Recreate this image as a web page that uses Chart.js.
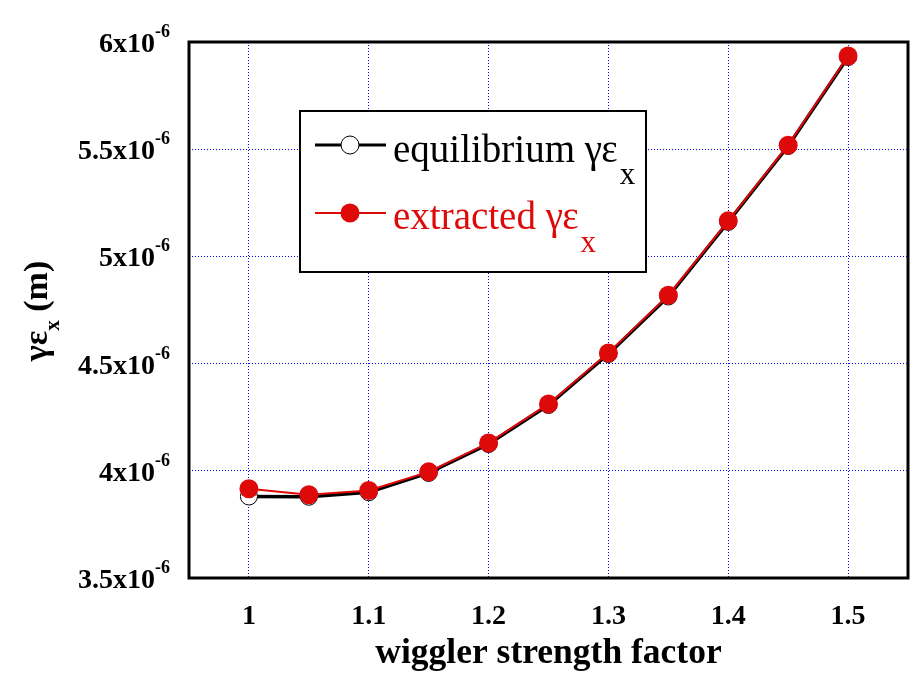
<!DOCTYPE html>
<html>
<head>
<meta charset="utf-8">
<script src="https://cdn.jsdelivr.net/npm/chart.js@4.4.1/dist/chart.umd.min.js"></script>
<style>
  html, body { margin: 0; padding: 0; background: #fff; }
  #wrap { width: 918px; height: 684px; }
</style>
</head>
<body>
<div id="wrap"><canvas id="c" width="918" height="684"></canvas></div>
<script>
// wiggler strength factor
const factors = [1.0, 1.05, 1.1, 1.15, 1.2, 1.25, 1.3, 1.35, 1.4, 1.45, 1.5];
// emittance values, units of 1e-6 m
const equilibrium = [3.880, 3.879, 3.900, 3.990, 4.125, 4.307, 4.545, 4.813, 5.161, 5.515, 5.930];
const extracted   = [3.916, 3.888, 3.908, 3.995, 4.130, 4.312, 4.550, 4.819, 5.166, 5.519, 5.935];

const xTicks = [1, 1.1, 1.2, 1.3, 1.4, 1.5];
const xTickLabels = ['1', '1.1', '1.2', '1.3', '1.4', '1.5'];
const yTicks = [3.5, 4, 4.5, 5, 5.5, 6];
const yTickLabels = ['3.5', '4', '4.5', '5', '5.5', '6'];
const yExponent = '-6';

const RED = '#de0a0a';
const SERIF = '"Liberation Serif", "Times New Roman", serif';

const pts = (ys) => factors.map((x, i) => ({ x: x, y: ys[i] }));

// Draws tick labels, titles, frame and legend
const decorPlugin = {
    id: 'decor',
    afterDatasetsDraw(chart) {
        const ctx = chart.ctx;
        const a = chart.chartArea;
        const xs = chart.scales.x;
        const ys = chart.scales.y;
        ctx.save();

        // frame
        ctx.strokeStyle = '#000';
        ctx.lineWidth = 3;
        ctx.strokeRect(a.left, a.top, a.right - a.left, a.bottom - a.top);

        // legend box
        const lx = 300, ly = 111, lw = 346, lh = 161;
        ctx.fillStyle = '#fff';
        ctx.fillRect(lx, ly, lw, lh);
        ctx.lineWidth = 2;
        ctx.strokeRect(lx, ly, lw, lh);

        // legend row 1
        ctx.strokeStyle = '#000';
        ctx.lineWidth = 3;
        ctx.beginPath(); ctx.moveTo(315, 145); ctx.lineTo(386, 145); ctx.stroke();
        ctx.beginPath(); ctx.arc(350, 145, 9, 0, Math.PI * 2);
        ctx.fillStyle = '#fff'; ctx.fill();
        ctx.lineWidth = 1; ctx.stroke();

        ctx.fillStyle = '#000';
        ctx.textAlign = 'left';
        ctx.textBaseline = 'alphabetic';
        ctx.font = '39px ' + SERIF;
        const t1 = 'equilibrium \u03b3\u03b5';
        ctx.fillText(t1, 393, 162);
        let w1 = ctx.measureText(t1).width;
        ctx.font = '31px ' + SERIF;
        ctx.fillText('x', 393 + w1 + 2, 184);

        // legend row 2
        ctx.strokeStyle = RED;
        ctx.lineWidth = 2;
        ctx.beginPath(); ctx.moveTo(315, 213); ctx.lineTo(386, 213); ctx.stroke();
        ctx.beginPath(); ctx.arc(350, 213, 9.5, 0, Math.PI * 2);
        ctx.fillStyle = RED; ctx.fill();

        ctx.font = '39px ' + SERIF;
        const t2 = 'extracted \u03b3\u03b5';
        ctx.fillText(t2, 393, 229);
        let w2 = ctx.measureText(t2).width;
        ctx.font = '31px ' + SERIF;
        ctx.fillText('x', 393 + w2 + 2, 252);

        // x tick labels
        ctx.fillStyle = '#000';
        ctx.font = 'bold 28px ' + SERIF;
        ctx.textAlign = 'center';
        xTicks.forEach((v, i) => {
            ctx.fillText(xTickLabels[i], xs.getPixelForValue(v), 624);
        });

        // y tick labels with exponent
        yTicks.forEach((v, i) => {
            const py = ys.getPixelForValue(v);
            ctx.font = 'bold 18px ' + SERIF;
            ctx.textAlign = 'right';
            ctx.fillText(yExponent, 170, py - 5);
            const ew = ctx.measureText(yExponent).width;
            ctx.font = 'bold 28px ' + SERIF;
            ctx.fillText(yTickLabels[i] + 'x10', 170 - ew, py + 10);
        });

        // x title
        ctx.font = 'bold 35.5px ' + SERIF;
        ctx.textAlign = 'center';
        ctx.fillText('wiggler strength factor', (a.left + a.right) / 2, 663);

        // y title, rotated
        ctx.save();
        ctx.translate(47, (a.top + a.bottom) / 2 + 1);
        ctx.rotate(-Math.PI / 2);
        ctx.textAlign = 'left';
        const main = '\u03b3\u03b5';
        const tail = ' (m)';
        ctx.font = 'bold 34px ' + SERIF;
        const mw = ctx.measureText(main).width;
        const tw = ctx.measureText(tail).width;
        ctx.font = 'bold 21px ' + SERIF;
        const sw = ctx.measureText('x').width;
        const total = mw + sw + tw;
        let cx = -total / 2;
        ctx.font = 'bold 34px ' + SERIF;
        ctx.fillText(main, cx, 0);
        cx += mw;
        ctx.font = 'bold 21px ' + SERIF;
        ctx.fillText('x', cx, 12);
        cx += sw;
        ctx.font = 'bold 34px ' + SERIF;
        ctx.fillText(tail, cx, 0);
        ctx.restore();

        ctx.restore();
    }
};

const gridOpts = {
    color: '#0000ff',
    lineWidth: 1,
    drawTicks: false
};

new Chart(document.getElementById('c'), {
    type: 'scatter',
    data: {
        datasets: [
            {
                label: 'extracted',
                data: pts(extracted),
                showLine: true,
                borderColor: RED,
                borderWidth: 2,
                backgroundColor: RED,
                pointRadius: 9.5,
                pointBorderWidth: 0,
                pointHoverRadius: 9.5,
                order: 0
            },
            {
                label: 'equilibrium',
                data: pts(equilibrium),
                showLine: true,
                borderColor: '#000',
                borderWidth: 3.5,
                backgroundColor: '#fff',
                pointRadius: 8.5,
                pointBorderWidth: 1,
                pointBorderColor: '#000',
                pointHoverRadius: 8.5,
                order: 1
            }
        ]
    },
    options: {
        responsive: false,
        animation: false,
        layout: { padding: { top: 42, right: 10, left: 0, bottom: 0 } },
        plugins: {
            legend: { display: false },
            tooltip: { enabled: false }
        },
        scales: {
            x: {
                type: 'linear',
                min: 0.95,
                max: 1.55,
                afterBuildTicks: s => { s.ticks = xTicks.map(v => ({ value: v })); },
                afterFit: s => { s.height = 106; },
                ticks: { display: false },
                grid: gridOpts,
                border: { display: false, dash: [1, 2] }
            },
            y: {
                type: 'linear',
                min: 3.5,
                max: 6,
                afterBuildTicks: s => { s.ticks = yTicks.map(v => ({ value: v })); },
                afterFit: s => { s.width = 189; },
                ticks: { display: false },
                grid: gridOpts,
                border: { display: false, dash: [1, 2] }
            }
        }
    },
    plugins: [decorPlugin]
});
</script>
</body>
</html>
